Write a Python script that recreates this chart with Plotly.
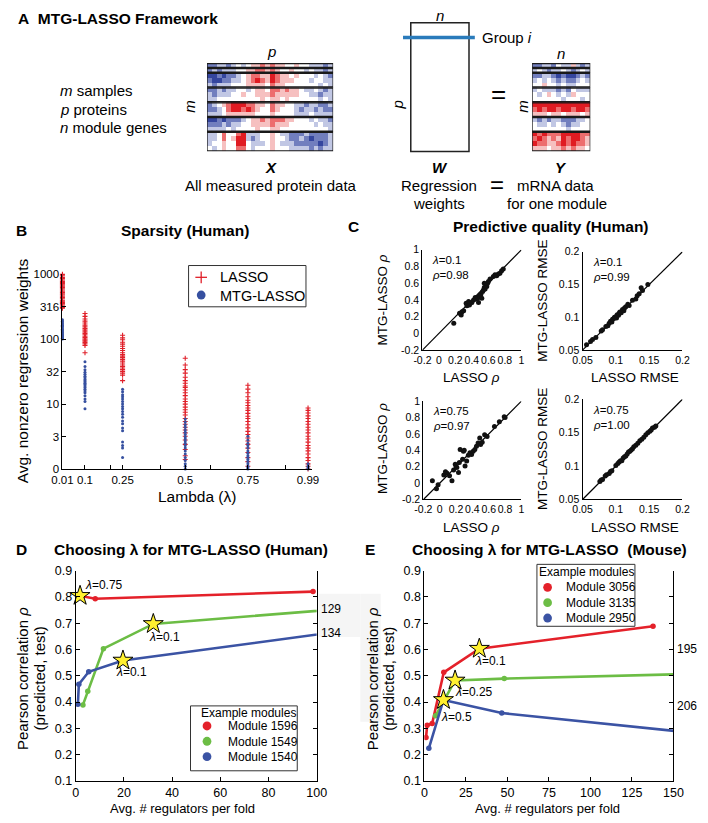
import plotly.graph_objects as go

W, H = 708, 823
FONT = "Arial, 'Liberation Sans', Helvetica, sans-serif"

# ---------------- Panel A data (heatmap blocks, values -3..3) ----------------
X_BLOCKS = [
    [[-2,-2,-1,-1,-2,-1,0,-1,0,1,1,2,1,2,1,1,0,0,1,0,0,-1,-1,-1,-2,-1]],
    [[-2,-1,-2,-1,-1,-1,0,0,1,1,2,2,1,2,1,0,0,1,0,0,-1,0,-1,-1,-2,-1]],
    [[-3,-3,-2,-3,-2,-2,-1,0,1,2,2,1,1,3,2,1,1,0,1,0,0,0,-1,0,-1,-2],
     [-2,-3,-3,-2,-2,-1,-1,0,1,2,3,2,1,3,2,1,1,1,0,0,0,-1,0,0,-1,-1],
     [-1,-2,-1,-1,-1,0,0,0,1,1,1,1,0,2,1,1,0,0,0,0,0,0,0,-1,0,-1]],
    [[-2,-2,-1,-2,-1,-1,0,0,-1,0,1,1,0,2,2,1,2,1,1,0,-1,-1,0,-1,-2,-1],
     [-1,-2,-1,-1,-1,0,0,1,0,0,1,1,1,2,1,1,1,1,1,0,0,-1,-1,-2,-1,-1],
     [-1,-1,0,0,0,0,0,0,0,0,0,1,0,1,1,0,1,0,0,0,0,0,0,-1,0,-1]],
    [[-2,-1,0,1,2,3,3,3,2,2,1,1,0,2,1,1,0,0,-1,-1,-2,-1,-1,-2,-2,-1],
     [-2,-2,-1,0,2,3,3,2,3,2,1,0,0,2,1,0,0,0,-1,-2,-1,-1,-2,-1,-2,-2],
     [-1,-1,-1,0,1,1,1,1,1,1,0,0,0,1,0,0,0,0,-1,-1,-1,0,-1,-1,-1,-1]],
    [[-3,-3,-2,-3,-2,-2,-2,-1,0,1,1,2,1,2,2,2,1,1,0,0,0,-1,0,-1,-1,-2],
     [-2,-2,-2,-1,-2,-1,-1,0,0,1,1,1,1,2,1,1,1,0,0,0,0,0,-1,0,-1,-1],
     [-1,-1,-1,-1,0,-1,0,0,0,0,1,0,0,1,1,0,0,0,0,0,0,0,0,0,0,-1]],
    [[-1,-1,0,2,0,0,2,3,-1,-1,-1,0,0,1,0,-1,-1,-2,-2,-2,-1,-2,-2,-2,-2,-1],
     [-1,-1,0,2,0,1,3,3,-1,-2,-1,0,0,1,0,0,-1,-2,-2,-1,-2,-3,-2,-2,-2,-1],
     [-1,0,0,1,0,0,3,3,0,-1,-1,-1,0,1,0,-1,-1,-1,-2,-2,-2,-2,-2,-3,-2,-1],
     [0,-1,0,1,0,0,2,2,0,-1,0,0,0,1,0,0,0,-1,-1,-1,-1,-2,-1,-2,-1,-1]],
]
Y_BLOCKS = [
    [[-2,-2,-1,-1,-2,0,-1,-1,1,-1,-2,-1]],
    [[-1,0,-1,-2,-1,-1,0,-1,-2,-1,0,-1]],
    [[-2,-2,-1,-1,-2,-3,-2,-3,-3,-2,-1,-2],
     [-1,0,-1,0,-1,-2,-1,-2,-2,-1,0,-1],
     [0,0,1,0,0,-1,0,-1,-1,0,0,0]],
    [[-1,0,-1,-1,-1,-2,-1,-2,0,-1,-1,-1],
     [0,-1,0,1,0,-1,0,-1,1,0,0,0],
     [0,0,0,0,0,0,-1,0,0,0,-1,0]],
    [[3,3,3,3,3,3,3,3,3,3,3,3],
     [2,3,2,3,3,2,3,3,2,3,3,2],
     [1,1,1,0,1,1,0,1,1,1,0,1]],
    [[-1,-2,-1,-2,-1,-1,-2,-2,-2,-1,-1,0],
     [0,-1,-1,0,-1,0,-1,-2,-1,-1,0,0],
     [0,0,0,0,0,0,0,-1,0,0,0,0]],
    [[3,2,3,2,2,2,3,3,3,3,2,2],
     [2,3,2,1,2,1,3,2,3,3,2,1],
     [3,2,2,1,1,2,3,2,3,2,2,1],
     [1,1,1,0,1,1,2,1,2,1,1,0]],
]

# ---------------- Panel B data ----------------
LAMBDAS = [0.01, 0.1, 0.25, 0.5, 0.75, 0.99]
LAMBDA_LABELS = ["0.01", "0.1", "0.25", "0.5", "0.75", "0.99"]
B_YTICKS = [1, 3.162, 10, 31.62, 100, 316.2, 1000]
B_YLABELS = ["0", "3", "10", "32", "100", "316", "1000"]

LASSO_001 = [1000, 950, 900, 860, 820, 780, 750, 720, 690, 660, 630, 600, 575, 550, 525, 500, 480, 460, 440, 420, 400, 385, 370, 355, 340, 325, 310, 300]
LASSO_010 = [250, 225, 205, 190, 178, 165, 155, 146, 138, 130, 123, 117, 111, 106, 101, 97, 93, 89, 85, 80, 62]
LASSO_025 = [115, 105, 98, 90, 84, 78, 72, 67, 62, 58, 55, 52, 49, 46, 43, 40, 38, 36, 34, 32, 30, 28, 23]
LASSO_050 = [51, 40, 34, 30, 26, 23, 21, 19, 18, 16.5, 15, 13.5, 12, 11, 10, 9, 8.2, 7.5, 6.8, 6, 5.4, 4.9, 4.4, 4, 3.6, 3.2, 2.8, 2.4, 2, 1.6, 1.4]
LASSO_075 = [19.5, 17, 15, 13, 11.5, 10.5, 9.5, 8.7, 8, 7.2, 6.5, 6, 5.4, 4.8, 4.3, 3.8, 3.4, 3, 2.7, 2.4, 2.1, 1.8, 1.5, 1.3, 1.1]
LASSO_099 = [8.7, 8, 7.3, 6.6, 6, 5.4, 4.9, 4.4, 4, 3.6, 3.2, 2.9, 2.6, 2.3, 2.1, 1.9, 1.7, 1.5, 1.35, 1.2, 1.1, 1]

MTG_001 = [200, 190, 180, 172, 165, 158, 150, 143, 137, 131, 126, 121, 116, 112, 108, 104, 101]
MTG_010 = [45, 38, 34, 31, 29, 27, 25.5, 24, 23, 22, 21, 20, 19, 18, 17, 16, 15, 13.5, 12, 11, 8.5]
MTG_025 = [17, 15.5, 14, 13, 12, 11, 10, 9.2, 8.5, 7.7, 7, 6.3, 5.5, 5, 4.3, 3.9, 2.6, 2.3, 2.1, 1.5]
MTG_050 = [5.9, 5.3, 4.8, 4.4, 4, 3.7, 3.4, 3.1, 2.9, 2.7, 2.5, 2.3, 2.1, 1.9, 1.7, 1.5, 1.35, 1.2, 1.1, 1]
MTG_075 = [3.2, 2.8, 2.5, 2.3, 2.1, 1.9, 1.75, 1.6, 1.5, 1.4, 1.3, 1.2, 1.1, 1.05, 1]
MTG_099 = [1.2, 1.1, 1.05, 1]

# ---------------- Panel C data ----------------
C1_LASSO = [0.18,0.25,0.27,0.28,0.30,0.33,0.34,0.36,0.37,0.38,0.40,0.42,0.44,0.45,0.47,0.48,0.49,0.50,0.51,0.52,0.53,0.54,0.55,0.56,0.57,0.58,0.59,0.60,0.55,0.62,0.66,0.68,0.70,0.72,0.74,0.76,0.78]
C1_MTG = [0.12,0.24,0.22,0.26,0.27,0.36,0.33,0.38,0.34,0.36,0.37,0.40,0.43,0.41,0.42,0.37,0.45,0.44,0.47,0.42,0.50,0.52,0.55,0.53,0.58,0.56,0.60,0.62,0.60,0.65,0.68,0.70,0.69,0.71,0.72,0.75,0.77]
C2_LASSO = [0.056,0.062,0.065,0.070,0.078,0.080,0.085,0.088,0.090,0.092,0.094,0.095,0.097,0.098,0.100,0.101,0.102,0.104,0.105,0.106,0.108,0.110,0.112,0.113,0.115,0.118,0.120,0.125,0.130,0.132,0.135,0.138,0.140,0.148]
C2_MTG = [0.058,0.063,0.066,0.069,0.079,0.081,0.086,0.087,0.091,0.094,0.093,0.097,0.098,0.100,0.101,0.099,0.104,0.103,0.106,0.108,0.107,0.112,0.110,0.114,0.116,0.120,0.118,0.126,0.128,0.133,0.136,0.145,0.141,0.150]
C3_LASSO = [-0.09,-0.04,-0.02,0.05,0.07,0.09,0.12,0.15,0.17,0.19,0.20,0.21,0.23,0.24,0.25,0.28,0.29,0.30,0.31,0.33,0.35,0.37,0.39,0.41,0.43,0.45,0.47,0.49,0.50,0.52,0.55,0.58,0.67,0.73,0.79,0.80]
C3_MTG = [0.03,-0.07,-0.02,0.10,0.14,0.12,0.09,0.03,0.16,0.23,0.20,0.19,0.13,0.25,0.41,0.29,0.39,0.40,0.21,0.27,0.34,0.37,0.35,0.39,0.41,0.45,0.49,0.55,0.47,0.50,0.59,0.57,0.69,0.75,0.81,0.80]
C4_LASSO = [0.076,0.078,0.080,0.084,0.086,0.090,0.092,0.094,0.100,0.103,0.105,0.107,0.109,0.111,0.113,0.115,0.117,0.119,0.121,0.123,0.125,0.127,0.130,0.133,0.136,0.139,0.142,0.145,0.148,0.151,0.153,0.155,0.158,0.160]
C4_MTG = [0.077,0.079,0.080,0.085,0.087,0.089,0.092,0.093,0.101,0.104,0.106,0.108,0.108,0.112,0.114,0.115,0.118,0.121,0.122,0.124,0.126,0.129,0.131,0.134,0.138,0.140,0.143,0.147,0.150,0.152,0.154,0.157,0.158,0.160]
RHO_RANGE = [-0.2, 1.0]
RHO_TICKS = [-0.2, 0, 0.2, 0.4, 0.6, 0.8, 1]
RHO_LABELS = ["-0.2", "0", "0.2", "0.4", "0.6", "0.8", "1"]
RMSE_RANGE = [0.05, 0.2]
RMSE_TICKS = [0.05, 0.1, 0.15, 0.2]
RMSE_LABELS = ["0.05", "0.1", "0.15", "0.2"]

# ---------------- Panel D / E data ----------------
D_X_1596 = [0.6, 1.8, 8.1, 98.5]
D_Y_1596 = [0.808, 0.804, 0.793, 0.820]
D_X_1549 = [3.0, 5.0, 11.5, 32.2, 129]
D_Y_1549 = [0.389, 0.441, 0.603, 0.697, 0.768]
D_X_1540 = [0.9, 1.3, 5.4, 19.6, 134]
D_Y_1540 = [0.392, 0.468, 0.515, 0.558, 0.698]
D_STARS = [1, 3, 3]
D_STAR_LABELS = ["λ=0.75", "λ=0.1", "λ=0.1"]
D_MODULES = ["Module 1596", "Module 1549", "Module 1540"]

E_X_3056 = [1.0, 1.7, 4.7, 11.7, 33.1, 137.7]
E_Y_3056 = [0.265, 0.312, 0.318, 0.513, 0.603, 0.688]
E_X_3135 = [6.8, 18.5, 48.1, 195]
E_Y_3135 = [0.348, 0.482, 0.489, 0.512]
E_X_2950 = [2.7, 11.5, 46.6, 206]
E_Y_2950 = [0.224, 0.408, 0.358, 0.254]
E_STARS = [4, 1, 1]
E_STAR_LABELS = ["λ=0.1", "λ=0.25", "λ=0.5"]
E_MODULES = ["Module 3056", "Module 3135", "Module 2950"]

RED = "#e4212a"
GREEN = "#6cbd45"
BLUE = "#3b53a4"
STAR = "#fff030"


def px(x):
    return x / W


def py(y):
    return 1 - y / H


def dx(a, b):
    return [px(a), px(b)]


def dy(a, b):
    return [py(b), py(a)]


ann = []


def txt(x, y, text, size=15, anchor="center", angle=0, color="black", align="center"):
    ann.append(dict(xref="paper", yref="paper", x=px(x), y=py(y), text=text,
                    showarrow=False, xanchor=anchor, yanchor="middle", align=align,
                    textangle=angle, font=dict(size=size, color=color, family=FONT)))


shapes = []
fig = go.Figure()

# ---------------- Panel A ----------------
def add_block_heatmap(blocks, xa, ya):
    z = [row for blk in blocks for row in blk]
    fig.add_trace(go.Heatmap(
        z=z, xaxis=xa, yaxis=ya, zmin=-3, zmax=3, showscale=False, hoverinfo="skip",
        colorscale=[[0, "#34459e"], [0.2, "#7d8ac4"], [0.35, "#c9cfe8"], [0.5, "#ffffff"],
                    [0.65, "#f7c8c8"], [0.8, "#ef7d7d"], [1, "#e01b22"]]))
    ncol = len(z[0])
    start = 0
    for blk in blocks:
        end = start + len(blk)
        shapes.append(dict(type="rect", xref=xa, yref=ya, x0=-0.5, x1=ncol - 0.5,
                           y0=start - 0.5 + 0.12, y1=end - 0.5 - 0.12,
                           line=dict(color="#1a1a1a", width=1.3)))
        start = end
    return len(z), ncol


nx_rows, nx_cols = add_block_heatmap(X_BLOCKS, "x8", "y8")
ny_rows, ny_cols = add_block_heatmap(Y_BLOCKS, "x9", "y9")

# W matrix box and group line
shapes.append(dict(type="rect", xref="paper", yref="paper", x0=px(412), x1=px(472),
                   y0=py(147), y1=py(16), line=dict(color="#222", width=1.5)))
shapes.append(dict(type="line", xref="paper", yref="paper", x0=px(404), x1=px(478),
                   y0=py(31), y1=py(31), line=dict(color="#2a7bbb", width=3.5)))

txt(5, 12, "<b>A\u00a0\u00a0MTG-LASSO Framework</b>", 15.5, "left")
txt(48, 85, "<i>m</i> samples", 15, "left")
txt(48, 104, "<i>p</i> proteins", 15, "left")
txt(48, 123, "<i>n</i> module genes", 15, "left")
txt(268, 45, "<i>p</i>", 15)
txt(184, 101, "<i>m</i>", 15, angle=-90)
txt(268, 163, "<b><i>X</i></b>", 15)
txt(268, 182, "All measured protein data", 15)
txt(442, 9, "<i>n</i>", 15)
txt(483, 31, "Group <i>i</i>", 15, "left")
txt(398, 100, "<i>p</i>", 15, angle=-90)
txt(502, 88, "=", 26)
txt(567, 47, "<i>n</i>", 15)
txt(527, 101, "<i>m</i>", 15, angle=-90)
txt(442, 163, "<b><i>W</i></b>", 15)
txt(441, 182, "Regression", 15)
txt(441, 200, "weights", 15)
txt(501, 181, "=", 24)
txt(567, 163, "<b><i>Y</i></b>", 15)
txt(561, 182, "mRNA data", 15)
txt(563, 200, "for one module", 15)

# ---------------- Panel B ----------------
B_RED = "#e0202a"
B_BLUE = "#3650a0"
lasso_cols = [LASSO_001, LASSO_010, LASSO_025, LASSO_050, LASSO_075, LASSO_099]
mtg_cols = [MTG_001, MTG_010, MTG_025, MTG_050, MTG_075, MTG_099]
bx_l, by_l, bx_m, by_m = [], [], [], []
for lam, lv, mv in zip(LAMBDAS, lasso_cols, mtg_cols):
    bx_l += [lam] * len(lv)
    by_l += lv
    bx_m += [lam] * len(mv)
    by_m += mv
fig.add_trace(go.Scatter(x=bx_l, y=by_l, mode="markers", xaxis="x", yaxis="y",
                         cliponaxis=False, showlegend=False,
                         marker=dict(symbol="cross-thin", size=3.6,
                                     line=dict(color=B_RED, width=1.1), color=B_RED)))
fig.add_trace(go.Scatter(x=bx_m, y=by_m, mode="markers", xaxis="x", yaxis="y",
                         cliponaxis=False, showlegend=False,
                         marker=dict(symbol="circle", size=3.0, color=B_BLUE)))

txt(3, 227, "<b>B</b>", 15.5, "left")
txt(179, 227, "<b>Sparsity (Human)</b>", 15.5)
txt(12, 370, "Avg. nonzero regression weights", 15.5, angle=-90)
txt(192, 498, "Lambda (λ)", 15.5)


def circle(cx, cy, r, col):
    shapes.append(dict(type="circle", xref="paper", yref="paper",
                       x0=px(cx - r), x1=px(cx + r), y0=py(cy + r), y1=py(cy - r),
                       fillcolor=col, line=dict(width=0)))


# legend B
shapes.append(dict(type="rect", xref="paper", yref="paper", x0=px(183), x1=px(304),
                   y0=py(305), y1=py(263), line=dict(color="#333", width=1),
                   fillcolor="white"))
shapes.append(dict(type="line", xref="paper", yref="paper", x0=px(190), x1=px(202),
                   y0=py(275), y1=py(275), line=dict(color=B_RED, width=1.3)))
shapes.append(dict(type="line", xref="paper", yref="paper", x0=px(196), x1=px(196),
                   y0=py(281), y1=py(269), line=dict(color=B_RED, width=1.3)))
circle(196, 293, 4.5, B_BLUE)
txt(213, 284, "LASSO<br>MTG-LASSO", 14.5, "left", align="left")

# ---------------- Panel C ----------------
txt(345, 223, "<b>C</b>", 15.5, "left")
txt(557, 223, "<b>Predictive quality (Human)</b>", 15.5)

c_specs = [
    ("x2", "y2", C1_LASSO, C1_MTG, RHO_RANGE, "<i>λ</i>=0.1", "<i>ρ</i>=0.98"),
    ("x3", "y3", C2_LASSO, C2_MTG, RMSE_RANGE, "<i>λ</i>=0.1", "<i>ρ</i>=0.99"),
    ("x4", "y4", C3_LASSO, C3_MTG, RHO_RANGE, "<i>λ</i>=0.75", "<i>ρ</i>=0.97"),
    ("x5", "y5", C4_LASSO, C4_MTG, RMSE_RANGE, "<i>λ</i>=0.75", "<i>ρ</i>=1.00"),
]
for xa, ya, xs, ys, rng, l1, l2 in c_specs:
    fig.add_trace(go.Scatter(x=rng, y=rng, mode="lines", xaxis=xa, yaxis=ya,
                             showlegend=False, line=dict(color="black", width=1.2)))
    fig.add_trace(go.Scatter(x=xs, y=ys, mode="markers", xaxis=xa, yaxis=ya,
                             showlegend=False, cliponaxis=False,
                             marker=dict(color="#111", size=5)))
    ann.append(dict(xref=xa + " domain", yref=ya + " domain", x=0.08, y=0.82,
                    text=l1 + "<br>" + l2, align="left",
                    showarrow=False, xanchor="left", yanchor="middle",
                    font=dict(size=11.5, color="black", family=FONT)))

txt(383, 298, "MTG-LASSO <i>ρ</i>", 13.5, angle=-90)
txt(475, 377, "LASSO <i>ρ</i>", 13.5)
txt(548, 299, "MTG-LASSO RMSE", 13.5, angle=-90)
txt(643, 377, "LASSO RMSE", 13.5)
txt(383, 449, "MTG-LASSO <i>ρ</i>", 13.5, angle=-90)
txt(475, 529, "LASSO <i>ρ</i>", 13.5)
txt(548, 450, "MTG-LASSO RMSE", 13.5, angle=-90)
txt(643, 529, "LASSO RMSE", 13.5)

# ---------------- Panels D and E ----------------
shapes.append(dict(type="rect", xref="paper", yref="paper", x0=px(317), x1=px(360),
                   y0=py(641), y1=py(597), line=dict(width=0), fillcolor="#f5f5f5",
                   layer="below"))
shapes.append(dict(type="rect", xref="paper", yref="paper", x0=px(360), x1=px(381),
                   y0=py(727), y1=py(597), line=dict(width=0), fillcolor="#f5f5f5",
                   layer="below"))


def add_lines(xa, ya, series, stars, labels, offsets):
    for (xs, ys, col), si, lab, (ox, oy) in zip(series, stars, labels, offsets):
        fig.add_trace(go.Scatter(x=xs, y=ys, mode="lines+markers", xaxis=xa, yaxis=ya,
                                 showlegend=False, line=dict(color=col, width=2.6),
                                 marker=dict(color=col, size=5.5)))
        fig.add_trace(go.Scatter(x=[xs[si]], y=[ys[si]], mode="markers", xaxis=xa,
                                 yaxis=ya, showlegend=False, cliponaxis=False,
                                 marker=dict(symbol="star", size=15, color=STAR,
                                             line=dict(color="black", width=1))))
        ann.append(dict(xref=xa, yref=ya, x=xs[si], y=ys[si],
                        text=lab.replace("λ", "<i>λ</i>"),
                        showarrow=False, xshift=ox, yshift=oy,
                        font=dict(size=12, color="black", family=FONT)))


add_lines("x6", "y6",
          [(D_X_1596, D_Y_1596, RED), (D_X_1549, D_Y_1549, GREEN), (D_X_1540, D_Y_1540, BLUE)],
          D_STARS, D_STAR_LABELS, [(24, 11), (11, -13), (9, -12)])
add_lines("x7", "y7",
          [(E_X_3056, E_Y_3056, RED), (E_X_3135, E_Y_3135, GREEN), (E_X_2950, E_Y_2950, BLUE)],
          E_STARS, E_STAR_LABELS, [(11, -12), (19, -12), (13, -17)])

for xa, ya, val, lab in [("x6", "y6", 0.753, "129"), ("x6", "y6", 0.662, "134"),
                         ("x7", "y7", 0.600, "195"), ("x7", "y7", 0.383, "206")]:
    ann.append(dict(xref=xa + " domain", yref=ya, x=1, y=val, text=lab, showarrow=False,
                    xanchor="left", xshift=2, font=dict(size=12, color="black", family=FONT)))

txt(3, 552, "<b>D</b>", 15.5, "left")
txt(185, 552, "<b>Choosing λ for MTG-LASSO (Human)</b>", 15.5)
txt(363, 552, "<b>E</b>", 15.5, "left")
txt(555, 552, "<b>Choosing λ for MTG-LASSO\u00a0\u00a0(Mouse)</b>", 15.5)
txt(12, 683, "Pearson correlation <i>ρ</i>", 15, angle=-90)
txt(29, 683, "(predicted, test)", 15, angle=-90)
txt(177, 815, "Avg. # regulators per fold", 13)
txt(372, 683, "Pearson correlation <i>ρ</i>", 15, angle=-90)
txt(389, 683, "(predicted, test)", 15, angle=-90)
txt(553, 815, "Avg. # regulators per fold", 13)

LEG_FONT = 12
LEG_STEP = LEG_FONT * 1.3


def module_legend(x0, x1, y0, y1, title_x, title_y, dot_x, text_x, yc, names, cols):
    shapes.append(dict(type="rect", xref="paper", yref="paper", x0=px(x0), x1=px(x1),
                       y0=py(y1), y1=py(y0), line=dict(color="#333", width=1),
                       fillcolor="white"))
    txt(title_x, title_y, "Example modules", 12)
    for k, col in enumerate(cols):
        circle(dot_x, yc + (k - 1) * LEG_STEP, 4.5, col)
    txt(text_x, yc, "<br>".join(names), LEG_FONT, "left", align="left")


module_legend(185, 295, 711, 777, 245, 718, 202, 222, 747, D_MODULES, [RED, GREEN, BLUE])
module_legend(542, 643, 567, 630, 593, 575, 553, 570, 606, E_MODULES, [RED, GREEN, BLUE])

# ---------------- Axes ----------------
def ax(**kw):
    base = dict(showline=True, linecolor="black", linewidth=1, showgrid=False,
                zeroline=False, ticks="inside", ticklen=4, tickcolor="black",
                tickangle=0, tickfont=dict(size=12, color="black", family=FONT))
    base.update(kw)
    return base


B_XTICKS = [0.01, 0.1, 0.2, 0.25, 0.4, 0.5, 0.6, 0.75, 0.9, 0.99]
B_XTEXT = ["0.01", "0.1", "", "0.25", "", "0.5", "", "0.75", "", "0.99"]

layout = dict(
    width=W, height=H, margin=dict(l=0, r=0, t=0, b=0),
    paper_bgcolor="white", plot_bgcolor="white", showlegend=False,
    font=dict(family=FONT, color="black"), hovermode=False,
    xaxis=ax(domain=dx(53, 310), range=[0.01, 1.005], anchor="y",
             tickvals=B_XTICKS, ticktext=B_XTEXT, tickfont=dict(size=11.5, family=FONT)),
    yaxis=ax(domain=dy(272, 470), type="log", range=[0, 3.0], anchor="x",
             tickvals=B_YTICKS, ticktext=B_YLABELS, tickfont=dict(size=11.5, family=FONT)),
)
c_dom = {2: ((424, 526), (247, 349), "rho"), 3: ((589, 692), (249, 349), "rmse"),
         4: ((425, 526), (401, 501), "rho"), 5: ((589, 692), (399, 501), "rmse")}
for i, ((xa0, xa1), (ya0, ya1), kind) in c_dom.items():
    rng, tv, tt = (RHO_RANGE, RHO_TICKS, RHO_LABELS) if kind == "rho" else \
        (RMSE_RANGE, RMSE_TICKS, RMSE_LABELS)
    layout[f"xaxis{i}"] = ax(domain=dx(xa0, xa1), range=rng, anchor=f"y{i}", ticks="",
                             tickvals=tv, ticktext=tt, tickfont=dict(size=10.5, family=FONT),
                             linewidth=1.3)
    layout[f"yaxis{i}"] = ax(domain=dy(ya0, ya1), range=rng, anchor=f"x{i}", ticks="",
                             tickvals=tv, ticktext=tt, tickfont=dict(size=10.5, family=FONT),
                             linewidth=1.3)

layout["xaxis6"] = ax(domain=dx(66.7, 315), range=[0, 100], dtick=20, anchor="y6",
                      tickfont=dict(size=12.5, family=FONT))
layout["yaxis6"] = ax(domain=dy(573.3, 787.3), range=[0.1, 0.9], dtick=0.1, anchor="x6",
                      mirror="ticks", tickformat=".1f", tickfont=dict(size=12.5, family=FONT))
layout["xaxis7"] = ax(domain=dx(426, 682.7), range=[0, 150], dtick=25, anchor="y7",
                      tickfont=dict(size=12.5, family=FONT))
layout["yaxis7"] = ax(domain=dy(573.3, 787.3), range=[0.1, 0.9], dtick=0.1, anchor="x7",
                      mirror="ticks", tickformat=".1f", tickfont=dict(size=12.5, family=FONT))

layout["xaxis8"] = dict(domain=dx(202, 332), range=[-0.5, nx_cols - 0.5], visible=False,
                        anchor="y8")
layout["yaxis8"] = dict(domain=dy(57, 147), range=[nx_rows - 0.5, -0.5], visible=False,
                        anchor="x8")
layout["xaxis9"] = dict(domain=dx(537, 597), range=[-0.5, ny_cols - 0.5], visible=False,
                        anchor="y9")
layout["yaxis9"] = dict(domain=dy(57, 147), range=[ny_rows - 0.5, -0.5], visible=False,
                        anchor="x9")

layout["annotations"] = ann
layout["shapes"] = shapes
fig.update_layout(**layout)
# the page body has a default 8px margin; remove it so the 708x823 figure fills the window
fig.write_html("out.html", config={"displayModeBar": False},
               post_script="document.body.style.margin='0px';document.body.style.overflow='hidden';")
